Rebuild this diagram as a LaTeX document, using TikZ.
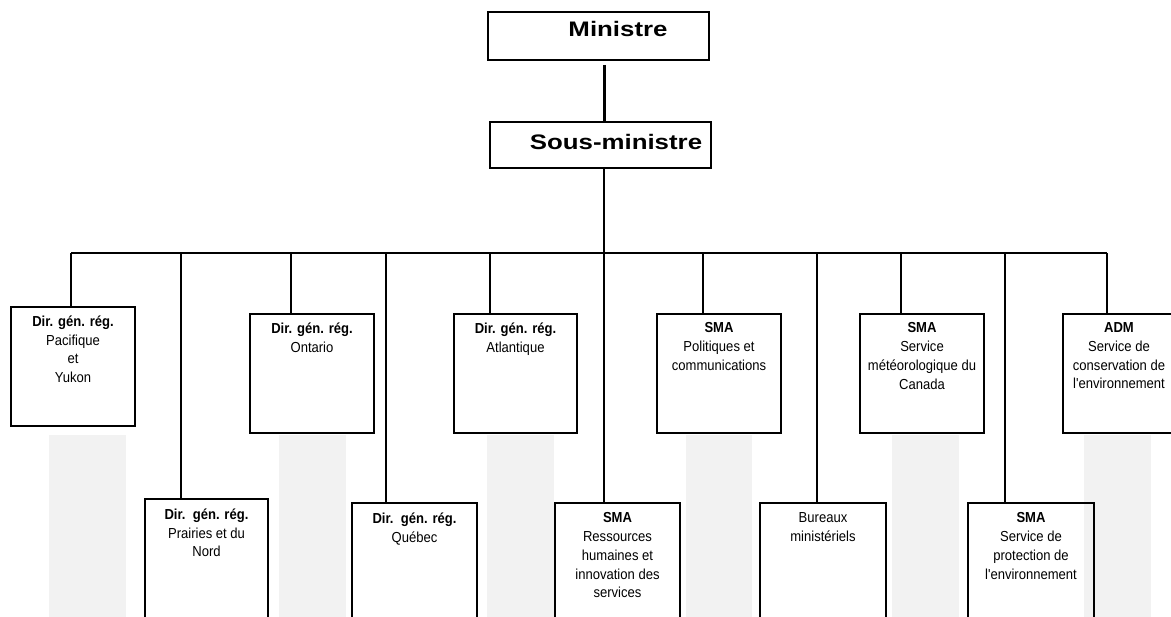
\documentclass[tikz,border=0pt]{standalone}
\usepackage{fontspec}
\setmainfont{Liberation Sans}
\newfontfamily\titlefont{Liberation Sans}[FakeStretch=1.23]
\newfontfamily\boxfont{Liberation Sans}[FakeStretch=0.9]
\definecolor{shadegray}{HTML}{F2F2F2}
\begin{document}
\begin{tikzpicture}[x=1pt,y=-1pt,
  box/.style={draw, line width=1.8pt, rectangle, inner sep=0pt},
  conn/.style={line width=1.5pt},
  thickconn/.style={line width=3pt},
  txt/.style={anchor=north, inner sep=0pt, align=center, font=\boxfont\fontsize{14.5}{18.7}\selectfont},
  titletxt/.style={inner sep=0pt, font=\titlefont\bfseries\fontsize{21}{25}\selectfont},
  shade/.style={fill=shadegray, draw=none}]
\useasboundingbox (0,0) rectangle (1171,617);
\clip (0,0) rectangle (1171,617);

% grey background bands
\fill[shade] (49,435) rectangle (126,617);
\fill[shade] (279,435) rectangle (346,617);
\fill[shade] (487,435) rectangle (554,617);
\fill[shade] (686,435) rectangle (752,617);
\fill[shade] (892,435) rectangle (959,617);
\fill[shade] (1084,435) rectangle (1151,617);

% top boxes
\node[box, minimum width=221, minimum height=48] (min) at (598.5,36) {};
\node[titletxt] (mint) at (618,29) {Ministre};
\node[box, minimum width=221, minimum height=46] (sm) at (600.5,145) {};
\node[titletxt] (smt) at (616,142) {Sous-ministre};

% upper row boxes
\node[box, minimum width=124, minimum height=119] (pac) at (73,366.5) {};
\node[box, minimum width=124, minimum height=119] (ont) at (312,373.5) {};
\node[box, minimum width=123, minimum height=119] (atl) at (515.5,373.5) {};
\node[box, minimum width=124, minimum height=119] (pol) at (719,373.5) {};
\node[box, minimum width=124, minimum height=119] (met) at (922,373.5) {};
\node[box, minimum width=124, minimum height=119] (adm) at (1125,373.5) {};

% lower row boxes
\node[box, minimum width=123, minimum height=123] (pra) at (206.5,560.5) {};
\node[box, minimum width=125, minimum height=119] (que) at (414.5,562.5) {};
\node[box, minimum width=125, minimum height=119] (rh) at (617.5,562.5) {};
\node[box, minimum width=126, minimum height=119] (bur) at (823,562.5) {};
\node[box, minimum width=126, minimum height=119] (pro) at (1031,562.5) {};

% texts
\node[txt] (pact) at ([yshift=-9.5pt]pac.north) {\textbf{Dir. gén. rég.}\\Pacifique\\et\\Yukon};
\node[txt] (ontt) at ([yshift=-9.5pt]ont.north) {\textbf{Dir. gén. rég.}\\Ontario};
\node[txt] (atlt) at ([yshift=-9.5pt]atl.north) {\textbf{Dir. gén. rég.}\\Atlantique};
\node[txt] (polt) at ([yshift=-9.5pt]pol.north) {\textbf{SMA}\\Politiques et\\communications};
\node[txt] (mett) at ([yshift=-9.5pt]met.north) {\textbf{SMA}\\Service\\météorologique du\\Canada};
\node[txt] (admt) at ([xshift=-6pt,yshift=-9.5pt]adm.north) {\textbf{ADM}\\Service de\\conservation de\\l'environnement};
\node[txt] (prat) at ([yshift=-10.5pt]pra.north) {\textbf{Dir.\ \ gén. rég.}\\Prairies et du\\Nord};
\node[txt] (quet) at ([yshift=-10.5pt]que.north) {\textbf{Dir.\ \ gén. rég.}\\Québec};
\node[txt] (rht) at ([yshift=-10.5pt]rh.north) {\textbf{SMA}\\Ressources\\humaines et\\innovation des\\services};
\node[txt] (burt) at ([yshift=-10.5pt]bur.north) {Bureaux\\ministériels};
\node[txt] (prot) at ([yshift=-10.5pt]pro.north) {\textbf{SMA}\\Service de\\protection de\\l'environnement};

% bus coordinates
\coordinate (b1) at (71,253);
\coordinate (b2) at (181,253);
\coordinate (b3) at (291,253);
\coordinate (b4) at (386,253);
\coordinate (b5) at (490,253);
\coordinate (trunk) at (604,253);
\coordinate (b7) at (703,253);
\coordinate (b8) at (817,253);
\coordinate (b9) at (901,253);
\coordinate (b10) at (1005,253);
\coordinate (b11) at (1107,253);

% connectors
\draw[thickconn, shorten <=4pt] (min.south -| trunk) -- (sm.north -| trunk);
\draw[conn] (sm.south -| trunk) -- (trunk) -- (trunk |- rh.north);
\draw[conn] (b1) -- (b11);
\draw[conn] (b1) -- (b1 |- pac.north);
\draw[conn] (b2) -- (b2 |- pra.north);
\draw[conn] (b3) -- (b3 |- ont.north);
\draw[conn] (b4) -- (b4 |- que.north);
\draw[conn] (b5) -- (b5 |- atl.north);
\draw[conn] (b7) -- (b7 |- pol.north);
\draw[conn] (b8) -- (b8 |- bur.north);
\draw[conn] (b9) -- (b9 |- met.north);
\draw[conn] (b10) -- (b10 |- pro.north);
\draw[conn] (b11) -- (b11 |- adm.north);
\end{tikzpicture}
\end{document}
